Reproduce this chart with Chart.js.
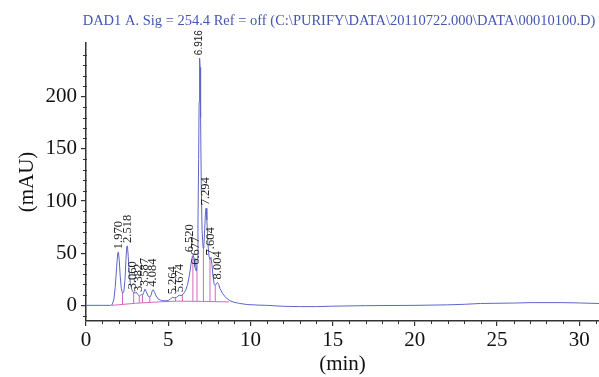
<!DOCTYPE html>
<html>
<head>
<meta charset="utf-8">
<script src="https://cdn.jsdelivr.net/npm/chart.js@4"></script>
<style>
  body { margin: 0; background: #fff; }
  #wrap { width: 599px; height: 377px; }
</style>
</head>
<body>
<div id="wrap"><canvas id="chromChart" width="599" height="377"></canvas></div>
<script>
// DAD1 trace, time (min) vs absorbance (mAU)
const times = [0, 1.0, 1.5, 1.6, 1.7, 1.78, 1.86, 1.93, 1.97, 2.02, 2.08, 2.15, 2.22, 2.3, 2.37, 2.43, 2.48, 2.52, 2.57, 2.63,
  2.7, 2.8, 2.9, 3.0, 3.06, 3.14, 3.24, 3.32, 3.38, 3.44, 3.51, 3.59, 3.67, 3.77, 3.88, 3.96, 4.03, 4.08, 4.16, 4.26,
  4.4, 4.6, 4.8, 5.0, 5.12, 5.26, 5.38, 5.5, 5.6, 5.67, 5.78, 5.9, 6.05, 6.18, 6.3, 6.4, 6.47, 6.52, 6.57, 6.62,
  6.67, 6.72, 6.77, 6.81, 6.85, 6.88, 6.91, 6.94, 6.97, 7.01, 7.06, 7.12, 7.17, 7.22, 7.27, 7.3, 7.35, 7.41, 7.48, 7.54,
  7.6, 7.66, 7.73, 7.8, 7.87, 7.94, 8.0, 8.07, 8.15, 8.3, 8.5, 8.75, 9.0, 9.35, 9.8, 10.4, 11.0, 12.0, 13.0, 14.0,
  15.0, 17.0, 20.0, 22.0, 23.0, 24.0, 26.0, 27.0, 29.0, 30.0, 31.2];
const signal = [0, 0, 0, 0.8, 6, 18, 36, 50, 51, 44, 28, 16, 11.5, 13, 24, 44, 56, 57, 47, 31,
  21, 14.5, 12, 12, 12.5, 10.5, 9, 9.8, 10.5, 9.5, 12.5, 15.5, 13, 9, 7.8, 10, 14, 15, 13, 9,
  6, 4.6, 4.3, 4.6, 6, 7.7, 7.2, 7.6, 9, 9.7, 9.3, 10.5, 14, 20, 30, 41, 47, 48, 45, 37,
  34, 33, 45, 80, 140, 195, 237, 228, 180, 115, 72, 55, 57, 74, 90, 93, 82, 60, 47, 44,
  46, 39, 27, 20, 19, 21, 22, 20, 16, 11.5, 7.5, 4.5, 3, 1.8, 0.8, 0.3, 0, -0.9, -1.2, -1.2,
  -0.8, -0.3, 0, 0.5, 1, 1.8, 2.2, 2.6, 2.6, 2.3, 1.8];

// integration baseline
const baseTimes = [1.58, 3.0, 4.4, 5.5, 7.0, 8.7];
const baseValues = [0, 2.0, 3.3, 4.0, 3.8, 3.3];

// drop lines between integrated peaks
const dropTimes = [2.22, 2.9, 3.24, 3.44, 3.88, 5.45, 5.86, 6.50, 6.75, 7.14, 7.54, 7.86];
const dropBottoms = [0.9, 1.9, 2.3, 2.5, 2.8, 4.0, 4.0, 3.9, 3.85, 3.8, 3.55, 3.55];
const dropTops = [11.5, 12, 9, 9.5, 7.8, 7.3, 10, 47.5, 38, 55, 44, 19];

// labelled peaks (retention time, apex height)
const peakTimes = [1.970, 2.518, 3.060, 3.382, 3.587, 4.084, 5.264, 5.674, 6.520, 6.677, 6.916, 7.294, 7.604, 8.004];
const peakHeights = [51, 57, 12.5, 10, 15.5, 15, 7.7, 9.7, 48, 36, 237, 93, 45, 22];

const xTicks = [0, 5, 10, 15, 20, 25, 30];
const yTicks = [0, 50, 100, 150, 200];

const titleText = 'DAD1 A. Sig = 254.4 Ref = off (C:\\PURIFY\\DATA\\20110722.000\\DATA\\00010100.D)';

const SERIF = '"Liberation Serif", "DejaVu Serif", serif';
const axisColor = '#333';
const traceColor = '#5d66c9';
const pink = '#d866bd';

const tracePoints = times.map((t, i) => ({ x: t, y: signal[i] }));
const basePoints = baseTimes.map((t, i) => ({ x: t, y: baseValues[i] }));
const dropPoints = [];
dropTimes.forEach((t, i) => {
  dropPoints.push({ x: t, y: dropBottoms[i] }, { x: t, y: dropTops[i] }, { x: t, y: null });
});

// minor ticks, title and peak labels
const extrasPlugin = {
  id: 'extras',
  afterDraw(chart) {
    const ctx = chart.ctx;
    const xs = chart.scales.x;
    const ys = chart.scales.y;
    const area = chart.chartArea;

    ctx.save();
    ctx.strokeStyle = axisColor;
    ctx.lineWidth = 1;
    for (let v = 1; v <= 31; v++) {
      if (v % 5 === 0) continue;
      const px = Math.round(xs.getPixelForValue(v)) + 0.5;
      ctx.beginPath();
      ctx.moveTo(px, area.bottom - 1);
      ctx.lineTo(px, area.bottom + 3);
      ctx.stroke();
    }
    for (let v = -10; v <= 250; v += 10) {
      if (v % 50 === 0) continue;
      const py = Math.round(ys.getPixelForValue(v)) + 0.5;
      ctx.beginPath();
      ctx.moveTo(area.left - 3, py);
      ctx.lineTo(area.left + 1, py);
      ctx.stroke();
    }

    // title
    ctx.fillStyle = '#4456b2';
    ctx.font = '14.5px ' + SERIF;
    ctx.textAlign = 'center';
    ctx.textBaseline = 'middle';
    ctx.fillText(titleText, 339, 21);

    // peak labels, rotated
    const labels = peakTimes.map((t, i) => {
      const big = peakHeights[i] === Math.max(...peakHeights);
      const font = big ? '10px "Liberation Sans", Arial, sans-serif' : '12.5px ' + SERIF;
      ctx.font = font;
      const text = t.toFixed(3);
      const w = ctx.measureText(text).width;
      const y = ys.getPixelForValue(peakHeights[i]) - 3;
      return { text, font, x: xs.getPixelForValue(t), y, top: y - w };
    });
    for (let i = labels.length - 1; i > 0; i--) {
      const a = labels[i - 1], b = labels[i];
      const overlapY = a.top < b.y && b.top < a.y;
      if (overlapY && b.x - a.x < 6) a.x = b.x - 6;
    }
    ctx.fillStyle = '#222';
    ctx.textAlign = 'left';
    ctx.textBaseline = 'middle';
    labels.forEach(l => {
      ctx.save();
      ctx.font = l.font;
      ctx.translate(l.x, l.y);
      ctx.rotate(-Math.PI / 2);
      ctx.fillText(l.text, 0, 0);
      ctx.restore();
    });
    ctx.restore();
  }
};

const ctx = document.getElementById('chromChart');
new Chart(ctx, {
  type: 'line',
  data: {
    datasets: [{
      data: tracePoints,
      borderColor: traceColor,
      borderWidth: 1,
      pointRadius: 0,
      tension: 0
    }, {
      data: basePoints,
      borderColor: pink,
      borderWidth: 1,
      pointRadius: 0
    }, {
      data: dropPoints,
      borderColor: pink,
      borderWidth: 1,
      pointRadius: 0,
      spanGaps: false
    }]
  },
  options: {
    responsive: false,
    devicePixelRatio: 1,
    animation: false,
    layout: { padding: { top: 43, right: 0, left: 0, bottom: 0 } },
    plugins: {
      legend: { display: false },
      tooltip: { enabled: false },
      title: { display: false }
    },
    scales: {
      x: {
        type: 'linear',
        min: 0,
        max: 31.2,
        afterBuildTicks: s => { s.ticks = xTicks.map(v => ({ value: v })); },
        afterFit: s => { s.height = 56; },
        ticks: { font: { family: SERIF, size: 21 }, color: '#111', padding: 2, maxRotation: 0, autoSkip: false },
        grid: { drawOnChartArea: false, drawTicks: true, tickLength: 5, color: axisColor, lineWidth: 1.2 },
        border: { display: true, color: axisColor, width: 1.5 },
        title: { display: true, text: '(min)', color: '#111', font: { family: SERIF, size: 21 }, padding: { top: 0, bottom: 0 } }
      },
      y: {
        type: 'linear',
        min: -15,
        max: 251.5,
        afterBuildTicks: s => { s.ticks = yTicks.map(v => ({ value: v })); },
        afterFit: s => { s.width = 86; },
        ticks: { font: { family: SERIF, size: 21 }, color: '#111', padding: 4 },
        grid: { drawOnChartArea: false, drawTicks: true, tickLength: 5, color: axisColor, lineWidth: 1.2 },
        border: { display: true, color: axisColor, width: 1.5 },
        title: { display: true, text: '(mAU)', color: '#111', font: { family: SERIF, size: 21 }, padding: { top: 15, bottom: 0 } }
      }
    }
  },
  plugins: [extrasPlugin]
});
</script>
</body>
</html>
